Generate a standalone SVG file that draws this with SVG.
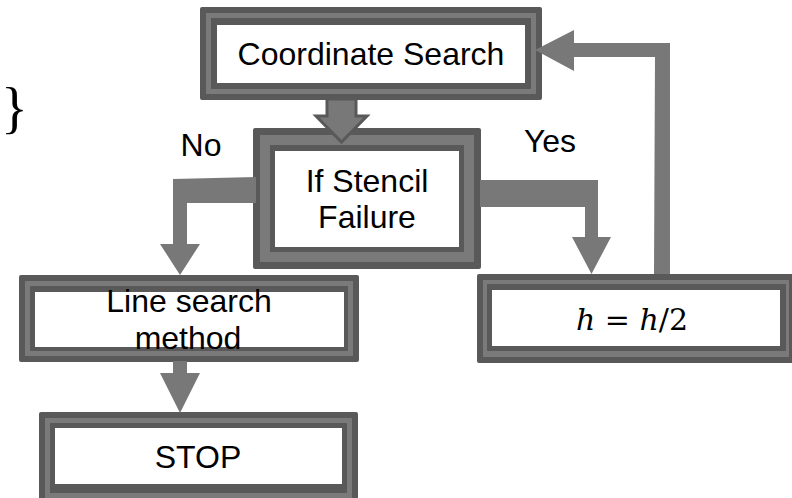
<svg xmlns="http://www.w3.org/2000/svg" width="792" height="498" viewBox="0 0 792 498">
<style>
.d{fill:#595959}
.g{fill:#7a7a7a}
.w{fill:#ffffff}
.t{font-family:"Liberation Sans",Arial,sans-serif;font-size:32px;fill:#000;text-anchor:middle}
.arr{fill:#787878}
</style>
<rect width="792" height="498" fill="#ffffff"/>
<text x="1" y="127" font-family="Liberation Serif,serif" font-size="56" fill="#000">}</text>
<g id="node-coord">
<rect class="d" x="200" y="7" width="342" height="93" rx="2"/>
<rect class="g" x="206" y="13" width="330" height="81"/>
<rect class="d" x="211" y="18" width="320" height="71"/>
<rect class="w" x="217" y="25" width="308" height="58"/>
<text class="t" x="371" y="65">Coordinate Search</text>
</g>
<g id="node-stencil">
<rect class="d" x="253" y="128" width="228" height="141" rx="2"/>
<rect class="g" x="260" y="135" width="214" height="127"/>
<rect class="d" x="270" y="145" width="194" height="107"/>
<rect class="w" x="275" y="151" width="184" height="96"/>
<text class="t" x="367" y="192">If Stencil</text>
<text class="t" x="367" y="228">Failure</text>
</g>
<g id="node-line">
<rect class="d" x="19" y="275" width="340" height="87" rx="2"/>
<rect class="g" x="25" y="281" width="328" height="75"/>
<rect class="d" x="30" y="286" width="318" height="65"/>
<rect class="w" x="35" y="292" width="309" height="55"/>
<text class="t" x="189" y="312">Line search</text>
<text class="t" x="188" y="349">method</text>
</g>
<g id="node-stop">
<rect class="d" x="39" y="412" width="319" height="92" rx="2"/>
<rect class="g" x="45" y="418" width="307" height="80"/>
<rect class="d" x="50" y="423" width="297" height="70"/>
<rect class="w" x="55" y="428" width="287" height="56"/>
<text class="t" x="198" y="468">STOP</text>
</g>
<g id="node-h">
<rect class="d" x="477" y="274" width="320" height="89" rx="2"/>
<rect class="g" x="483" y="280" width="306" height="77"/>
<rect class="d" x="487" y="284" width="299" height="67"/>
<rect class="w" x="492" y="290" width="288" height="56"/>
<text x="632" y="330" font-family="DejaVu Serif,serif" font-size="30" fill="#000" text-anchor="middle"><tspan font-style="italic">h</tspan> = <tspan font-style="italic">h</tspan>/2</text>
</g>
<g id="connectors">
<path class="arr" d="M327,99 L356,99 L356,116 L367,116 L341.5,142 L316,116 L327,116 Z" stroke="#595959" stroke-width="3" stroke-linejoin="miter"/>
<path class="arr" d="M256,177 L256,203 L187,203 L187,244 L200,244 L180,275 L160,244 L173,244 L173,179 Z"/>
<path class="arr" d="M480,180 L598,180 L598,237 L611,237 L591.5,274 L572,237 L585,237 L585,207 L480,207 Z"/>
<path class="arr" d="M173,361 L187,361 L187,373 L200,373 L180,413 L160,373 L173,373 Z"/>
<path class="arr" d="M654,274 L655,57 L574,57 L574,71 L535,50 L574,30 L574,43 L670,43 L670,274 Z"/>
</g>
<text class="t" x="201" y="156">No</text>
<text class="t" x="550" y="152">Yes</text>
</svg>
